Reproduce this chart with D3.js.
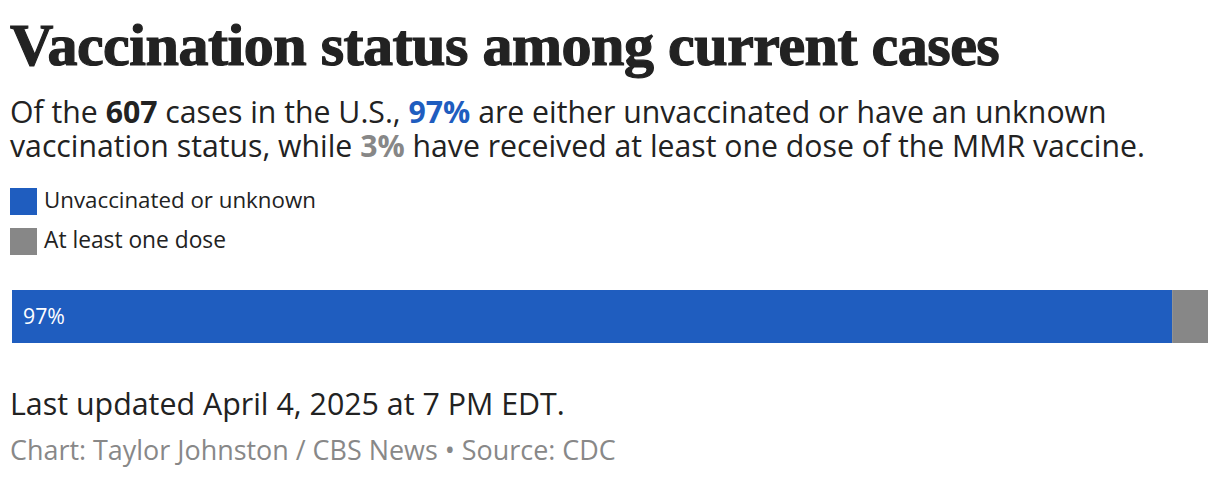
<!DOCTYPE html>
<html><head><meta charset="utf-8">
<script src="https://cdn.jsdelivr.net/npm/d3@7"></script>
<style>
html,body{margin:0;padding:0;background:#fff;}
svg{display:block;}
</style></head>
<body>
<svg id="c" width="1220" height="478"></svg>
<script>
const categories = ["Unvaccinated or unknown", "At least one dose"];
const values = [97, 3];
const colors = ["#1f5dbf", "#878787"];
const totalCases = 607;

const W = 1220, H = 478;
const svg = d3.select("#c");
const sans = "'Open Sans', Lato, sans-serif";

function fit(sel, target) {
  const n = sel.node();
  const w = n.getComputedTextLength();
  const fs = parseFloat(sel.attr("font-size"));
  sel.attr("font-size", fs * target / w);
}

// Title
const title = svg.append("text").attr("x", 10).attr("y", 65)
  .attr("font-family", "'Liberation Serif', 'DejaVu Serif', serif")
  .attr("font-weight", 700).attr("font-size", 56).attr("fill", "#222")
  .attr("stroke", "#222").attr("stroke-width", 1.2)
  .attr("letter-spacing", -0.5)
  .text("Vaccination status among current cases");
fit(title, 988);

// Subtitle
function rich(y, parts, target) {
  const t = svg.append("text").attr("x", 10).attr("y", y)
    .attr("font-family", sans).attr("font-size", 26).attr("fill", "#222");
  parts.forEach(p => {
    t.append("tspan").attr("font-weight", p.b ? 700 : 400).attr("fill", p.c || "#222").text(p.t);
  });
  fit(t, target);
  return t;
}
rich(123, [{t:"Of the "},{t:String(totalCases), b:true},{t:" cases in the U.S., "},
  {t:values[0]+"%", b:true, c:colors[0]},{t:" are either unvaccinated or have an unknown"}], 1097);
rich(157, [{t:"vaccination status, while "},{t:values[1]+"%", b:true, c:colors[1]},
  {t:" have received at least one dose of the MMR vaccine."}], 1135);

// Legend
const legW = [272, 182];
const leg = svg.append("g");
categories.forEach((c, i) => {
  const g = leg.append("g").attr("transform", `translate(10,${188 + i*40})`);
  g.append("rect").attr("width", 27).attr("height", 27).attr("fill", colors[i]);
  const t = g.append("text").attr("x", 34).attr("y", 20).attr("font-family", sans)
    .attr("font-size", 21).attr("fill", "#222").text(c);
  fit(t, legW[i]);
});

// Bar
const x = d3.scaleLinear().domain([0, d3.sum(values)]).range([12, 1208]);
const y = d3.scaleBand().domain(["cases"]).range([290, 343]).padding(0);
const stack = [];
let acc = 0;
values.forEach((v, i) => { stack.push({cat: categories[i], v, x0: acc, x1: acc + v, color: colors[i]}); acc += v; });
svg.selectAll("rect.bar").data(stack).join("rect").attr("class", "bar")
  .attr("x", d => x(d.x0)).attr("width", d => x(d.x1) - x(d.x0))
  .attr("y", y("cases")).attr("height", y.bandwidth()).attr("fill", d => d.color);
const lbl = svg.append("text").attr("x", x(0) + 11).attr("y", y("cases") + y.bandwidth()/2 + 7)
  .attr("font-family", sans).attr("font-size", 20).attr("fill", "#fff")
  .text(values[0] + "%");
fit(lbl, 42);

// Notes
const upd = svg.append("text").attr("x", 10).attr("y", 415).attr("font-family", sans)
  .attr("font-size", 26).attr("fill", "#222").text("Last updated April 4, 2025 at 7 PM EDT.");
fit(upd, 555);
const src = svg.append("text").attr("x", 10).attr("y", 460).attr("font-family", sans)
  .attr("font-size", 23).attr("fill", "#888").text("Chart: Taylor Johnston / CBS News • Source: CDC");
fit(src, 606);
</script>
</body></html>
